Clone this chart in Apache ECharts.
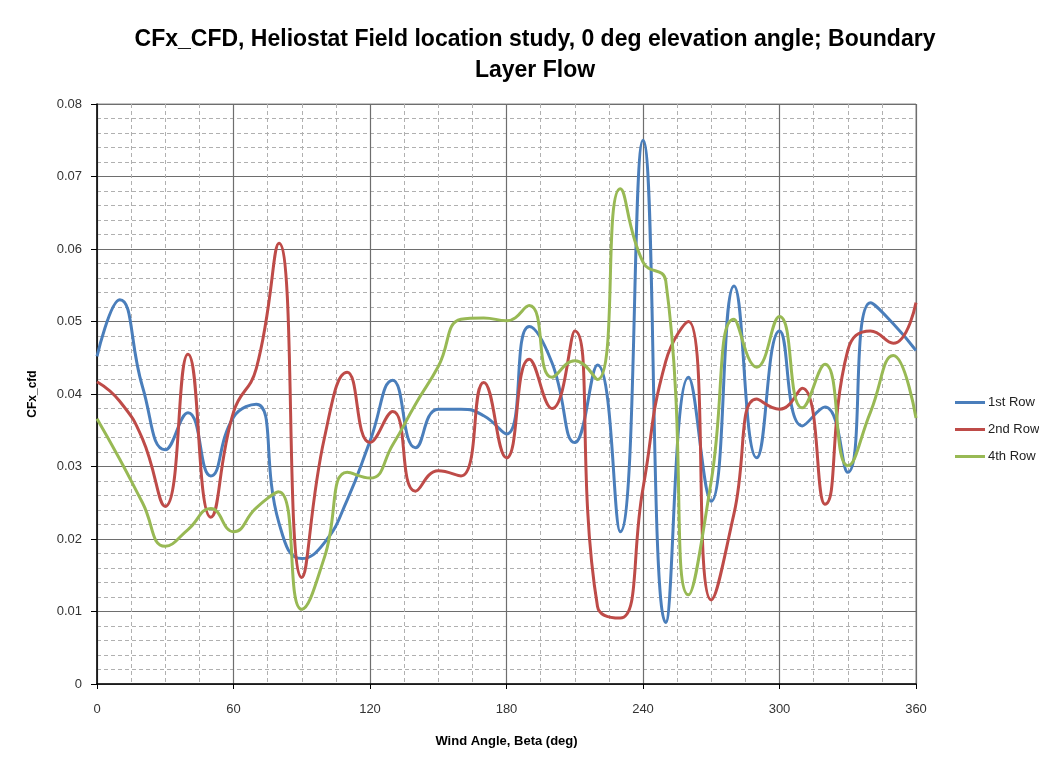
<!DOCTYPE html>
<html>
<head>
<meta charset="utf-8">
<script src="https://cdn.jsdelivr.net/npm/echarts@6/dist/echarts.min.js"></script>
<style>
  html, body { margin: 0; padding: 0; background: #fff; }
  #chart { width: 1039px; height: 759px; }
</style>
</head>
<body>
<div id="chart"></div>
<script>
// Wind angle (deg), sampled every 10 degrees
const angles = [0,10,20,30,40,50,60,70,80,90,100,110,120,130,140,150,160,170,180,
                190,200,210,220,230,240,250,260,270,280,290,300,310,320,330,340,350,360];

const row1 = [0.0452,0.0530,0.0410,0.0323,0.0374,0.0287,0.0368,0.0386,0.0222,0.0173,
              0.0195,0.0254,0.0335,0.0419,0.0326,0.0379,0.0379,0.0370,0.0345,0.0493,
              0.0443,0.0333,0.0440,0.0210,0.0750,0.0085,0.0423,0.0252,0.0549,0.0312,
              0.0487,0.0356,0.0382,0.0292,0.0526,0.0497,0.0460];

const row2 = [0.0417,0.0390,0.0338,0.0245,0.0455,0.0230,0.0375,0.0435,0.0608,0.0147,
              0.0340,0.0430,0.0333,0.0376,0.0266,0.0294,0.0287,0.0416,0.0312,0.0448,
              0.0380,0.0487,0.0107,0.0091,0.0270,0.0445,0.0500,0.0116,0.0235,0.0393,
              0.0379,0.0408,0.0248,0.0460,0.0487,0.0470,0.0526];

const row4 = [0.0366,0.0310,0.0250,0.0190,0.0213,0.0242,0.0210,0.0243,0.0265,0.0103,
              0.0175,0.0292,0.0284,0.0330,0.0386,0.0438,0.0503,0.0505,0.0501,0.0522,
              0.0423,0.0446,0.0420,0.0683,0.0582,0.0556,0.0123,0.0280,0.0503,0.0437,
              0.0507,0.0381,0.0441,0.0301,0.0375,0.0453,0.0367];

const seriesNames = ['1st Row', '2nd Row', '4th Row'];
const seriesColors = ['#4a7ebb', '#be4b48', '#98b954'];
const seriesValues = [row1, row2, row4];

const chart = echarts.init(document.getElementById('chart'));
const font = '"Liberation Sans", Arial, sans-serif';

chart.setOption({
  animation: false,
  backgroundColor: '#ffffff',
  title: {
    text: 'CFx_CFD, Heliostat Field location study, 0 deg elevation angle; Boundary\nLayer Flow',
    left: 530,
    textAlign: 'center',
    top: 19,
    textStyle: { fontFamily: font, fontSize: 23, fontWeight: 'bold', color: '#000', lineHeight: 31 }
  },
  legend: {
    orient: 'vertical',
    left: 950,
    top: 391,
    itemWidth: 30,
    itemHeight: 3,
    itemGap: 14,
    icon: 'rect',
    textStyle: { fontFamily: font, fontSize: 13, color: '#222', padding: [0, 0, 0, -2] },
    data: seriesNames
  },
  grid: { left: 97, right: 123, top: 104, bottom: 75, show: true, borderColor: '#888', borderWidth: 1 },
  xAxis: {
    type: 'value',
    min: 0, max: 360, interval: 60,
    name: 'Wind Angle, Beta (deg)',
    nameLocation: 'middle',
    nameGap: 51,
    nameTextStyle: { fontFamily: font, fontSize: 13, fontWeight: 'bold', color: '#000' },
    axisLine: { lineStyle: { color: '#000', width: 1.5 } },
    axisTick: { show: true, length: 5, lineStyle: { color: '#000' } },
    axisLabel: { fontFamily: font, fontSize: 13, color: '#333', margin: 19 },
    splitLine: { show: true, lineStyle: { color: '#6e6e6e', width: 1.2 } },
    minorTick: { show: false, splitNumber: 4 },
    minorSplitLine: { show: true, lineStyle: { color: '#b0b0b0', type: [4, 3], width: 1 } }
  },
  yAxis: {
    type: 'value',
    min: 0, max: 0.08, interval: 0.01,
    name: 'CFx_cfd',
    nameLocation: 'middle',
    nameGap: 58,
    nameRotate: 90,
    nameTextStyle: { fontFamily: font, fontSize: 12, fontWeight: 'bold', color: '#000' },
    axisLine: { show: true, lineStyle: { color: '#000', width: 1.5 } },
    axisTick: { show: true, length: 6, lineStyle: { color: '#000' } },
    axisLabel: {
      fontFamily: font, fontSize: 13, color: '#333', margin: 15,
      formatter: v => (v === 0 ? '0' : v.toFixed(2))
    },
    splitLine: { show: true, lineStyle: { color: '#6e6e6e', width: 1.2 } },
    minorTick: { show: false, splitNumber: 5 },
    minorSplitLine: { show: true, lineStyle: { color: '#b0b0b0', type: [4, 3], width: 1 } }
  },
  series: seriesNames.map((name, i) => ({
    name,
    type: 'line',
    data: angles.map((a, j) => [a, seriesValues[i][j]]),
    smooth: 0.5,
    showSymbol: false,
    symbol: 'none',
    lineStyle: { color: seriesColors[i], width: 3 },
    itemStyle: { color: seriesColors[i] }
  }))
});
</script>
</body>
</html>
